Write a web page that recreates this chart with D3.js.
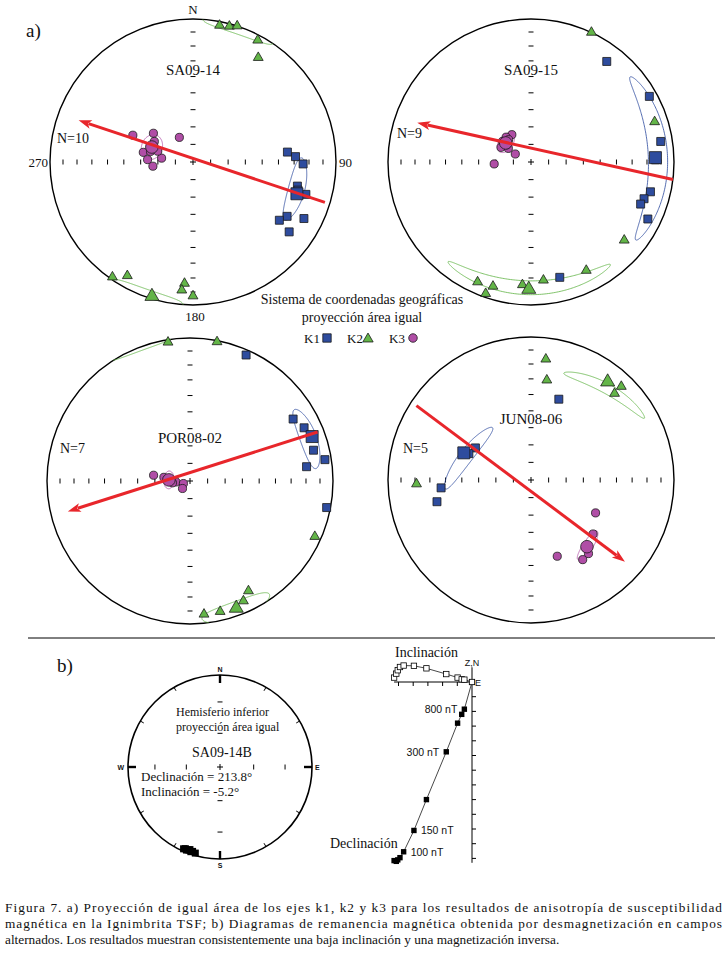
<!DOCTYPE html>
<html>
<head>
<meta charset="utf-8">
<script src="https://cdn.jsdelivr.net/npm/d3@7"></script>
<style>
  body { margin: 0; background: #fff; }
  svg text { font-family: "Liberation Serif", "Times New Roman", serif; fill: #111; }
  svg text.sans { font-family: "Liberation Sans", Arial, sans-serif; }
</style>
</head>
<body>
<svg id="fig" width="727" height="957"></svg>
<script>
// ---------- data : axes as [trend, plunge] in degrees ----------
const siteNames = ["SA09-14", "SA09-15", "POR08-02", "JUN08-06"];
const siteN = [10, 9, 7, 5];

const k1_SA0914 = [[84,34],[87,29],[91,24],[103,26],[106,19],[120,25],[124,28],[117,14],[126,18],[105,25]];
const k2_SA0914 = [[11,3],[15,2],[18,0],[28,4],[32,15],[215,2],[210,9],[184,16],[185,11],[180,7]];
const k3_SA0914 = [[294,52],[306,62],[331,74],[281,61],[277,72],[273,64],[264,67],[298,65],[284,65],[287,69]];
const mean_SA0914 = [[107,25],[197,2],[290,65]];
// confidence ellipses: [trend, plunge, semi-major, semi-minor, axis angle]
const ell_SA0914 = [[105,26,15.5,5.5,0],[199,0,15,6,0],[290,65,7,6,0]];
const flow_SA0914 = [[107,4],[290,16]];

const k1_SA0915 = [[37,13],[61,6],[81,9],[89,14],[104,15],[108,18],[111,19],[116,10],[166,18]];
const k2_SA0915 = [[25,0],[72,10],[130,16],[153,16],[174,18],[184,15],[197,10],[204,9],[199,3]];
const k3_SA0915 = [[325,71],[315,70],[306,70],[296,71],[315,72],[301,75],[297,80],[267,69],[305,73]];
const mean_SA0915 = [[88,14],[181,12],[307,72]];
const ell_SA0915 = [[88,12,38,7,0],[181,13,38,5,0],[307,72,6,4,0]];
const flow_SA0915 = [[97,0],[289,17]];

const k1_POR0802 = [[24,4],[59,17],[65,13],[76,12],[81,5],[83,19],[101,3]];
const k2_POR0802 = [[351,2],[11,1],[114,5],[152,14],[156,9],[167,7],[174,7]];
const k3_POR0802 = [[279,69],[278,75],[266,82],[249,86],[225,84],[264,80],[274,77]];
const mean_POR0802 = [[70,10],[160,6],[273,78]];
const ell_POR0802 = [[70,13,14,6,0],[160,4,15,7,0],[273,78,5,3,0]];
const flow_POR0802 = [[69,5],[256,13]];

const k1_JUN0806 = [[19,40],[300,53],[293,51],[265,37],[257,33]];
const k2_JUN0806 = [[7,16],[9,30],[44,10],[44,17],[268,21]];
const k3_JUN0806 = [[117,48],[131,42],[142,35],[147,34],[161,43]];
const mean_JUN0806 = [[292,48],[38,14],[140,39]];
const ell_JUN0806 = [[290,50,21,4,20],[40,18,22,3.5,-17],[139,39,9,3,-20]];
const flow_JUN0806 = [[303,5],[131,14]];

// part b: remanence directions SA09-14B (upper hemisphere, plotted at their declination)
const decB = [196,198,199,200,201,202,203,204];
const incB = [-3,-4,-3,-5,-4,-3,-4,-3];
// Zijderveld components (one unit = one tick)
const afSteps = [0,25,50,75,100,150,200,300,500,600,800,1000];
const compE  = [-5.3,-5.15,-5.05,-4.9,-4.65,-3.95,-3.1,-1.75,-0.98,-0.7,-0.52,0];
const compN  = [-12.15,-12.2,-12.1,-11.95,-11.55,-10.1,-8.0,-4.75,-2.8,-2.2,-1.85,0];
const compUp = [0.3,0.57,0.8,1.02,1.12,1.1,0.93,0.54,0.3,0.18,0.16,0];
const labelledSteps = [100,150,300,800];

const caption = [
  "Figura 7. a) Proyección de igual área de los ejes k1, k2 y k3 para los resultados de anisotropía de susceptibilidad",
  "magnética en la Ignimbrita TSF; b) Diagramas de remanencia magnética obtenida por desmagnetización en campos",
  "alternados. Los resultados muestran consistentemente una baja inclinación y una magnetización inversa."
];

// ---------- drawing ----------
const svg = d3.select("#fig");
const D = Math.PI / 180;
const colK1 = "#2e4c9e", colK2 = "#63b548", colK3 = "#b04ea6", colArrow = "#e8262b";

function eqArea(tr, pl) {
  if (pl < 0) { tr += 180; pl = -pl; }
  const r = Math.SQRT2 * Math.sin((90 - pl) * D / 2);
  return [r * Math.sin(tr * D), r * Math.cos(tr * D)];
}

function ellipseSegments(e) {
  const [tr, pl, a, b, phi] = e;
  const t = tr * D, p = pl * D, f = phi * D;
  const c = [Math.cos(p) * Math.cos(t), Math.cos(p) * Math.sin(t), Math.sin(p)];
  const eh = [-Math.sin(t), Math.cos(t), 0];
  const ep = [-Math.sin(p) * Math.cos(t), -Math.sin(p) * Math.sin(t), Math.cos(p)];
  const M = eh.map((v, i) => Math.cos(f) * v + Math.sin(f) * ep[i]);
  const m = eh.map((v, i) => -Math.sin(f) * v + Math.cos(f) * ep[i]);
  const ta = Math.tan(a * D), tb = Math.tan(b * D);
  const segs = [];
  let cur = [], last = null;
  for (let k = 0; k <= 360; k++) {
    const th = k / 360 * 2 * Math.PI;
    let v = c.map((cv, i) => cv + ta * Math.cos(th) * M[i] + tb * Math.sin(th) * m[i]);
    const n = Math.hypot(v[0], v[1], v[2]);
    v = v.map(x => x / n);
    const s = v[2] >= 0;
    if (last !== null && s !== last) { segs.push(cur); cur = []; }
    last = s;
    cur.push(eqArea(Math.atan2(v[1], v[0]) / D, Math.asin(v[2]) / D));
  }
  segs.push(cur);
  if (segs.length > 2) { const tail = segs.pop(); segs[0] = tail.concat(segs[0]); }
  return segs;
}

const netLayout = [
  { cx: 193, cy: 162, R: 143, nameY: 75, nX: 57, nY: 143 },
  { cx: 531, cy: 162, R: 143, nameY: 75, nX: 397, nY: 138 },
  { cx: 190, cy: 481, R: 143, nameY: 443, nX: 60, nY: 453 },
  { cx: 531, cy: 480, R: 143, nameY: 424, nX: 403, nY: 453 }
];
const siteData = [
  [k1_SA0914, k2_SA0914, k3_SA0914, mean_SA0914, ell_SA0914, flow_SA0914],
  [k1_SA0915, k2_SA0915, k3_SA0915, mean_SA0915, ell_SA0915, flow_SA0915],
  [k1_POR0802, k2_POR0802, k3_POR0802, mean_POR0802, ell_POR0802, flow_POR0802],
  [k1_JUN0806, k2_JUN0806, k3_JUN0806, mean_JUN0806, ell_JUN0806, flow_JUN0806]
];
const symTypes = [d3.symbolSquare, d3.symbolTriangle, d3.symbolCircle];
const symCols = [colK1, colK2, colK3];
const symSize = [64, 42, 52];
const symBig = [144, 85, 125];

siteNames.forEach((name, si) => {
  const L = netLayout[si];
  const [k1, k2, k3, means, ells, flow] = siteData[si];
  const x = d3.scaleLinear().domain([-1, 1]).range([L.cx - L.R, L.cx + L.R]);
  const y = d3.scaleLinear().domain([-1, 1]).range([L.cy + L.R, L.cy - L.R]);
  const g = svg.append("g");

  g.append("circle").attr("cx", x(0)).attr("cy", y(0)).attr("r", L.R)
    .attr("fill", "none").attr("stroke", "#000").attr("stroke-width", 1.4);

  // ticks every 10 degrees along the axes
  const tickR = d3.range(10, 90, 10).map(inc => Math.SQRT2 * Math.sin((90 - inc) * D / 2));
  tickR.forEach(r => {
    [-1, 1].forEach(sg => {
      g.append("line").attr("x1", x(sg * r)).attr("x2", x(sg * r))
        .attr("y1", y(0) - 2.5).attr("y2", y(0) + 2.5).attr("stroke", "#000").attr("stroke-width", 1);
      g.append("line").attr("y1", y(sg * r)).attr("y2", y(sg * r))
        .attr("x1", x(0) - 2.5).attr("x2", x(0) + 2.5).attr("stroke", "#000").attr("stroke-width", 1);
    });
  });
  g.append("path").attr("d", `M${x(0)-3},${y(0)}h6M${x(0)},${y(0)-3}v6`).attr("stroke", "#000");

  g.append("text").attr("x", x(0)).attr("y", L.nameY).attr("text-anchor", "middle")
    .attr("font-size", 15).text(name);
  g.append("text").attr("x", L.nX).attr("y", L.nY).attr("font-size", 14).text("N=" + siteN[si]);

  // confidence ellipses
  const line = d3.line().x(d => x(d[0])).y(d => y(d[1]));
  ells.forEach((e, k) => {
    ellipseSegments(e).forEach(seg => {
      g.append("path").attr("d", line(seg)).attr("fill", "none")
        .attr("stroke", symCols[k]).attr("stroke-width", 0.9).attr("opacity", 0.9);
    });
  });

  // individual specimens, K2 then K1 then K3
  [[k2, 1], [k1, 0], [k3, 2]].forEach(([pts, k]) => {
    g.selectAll(null).data(pts).enter().append("path")
      .attr("d", d3.symbol().type(symTypes[k]).size(symSize[k]))
      .attr("transform", d => { const p = eqArea(d[0], d[1]); return `translate(${x(p[0])},${y(p[1])})`; })
      .attr("fill", symCols[k]).attr("stroke", "#1a1a1a").attr("stroke-width", 0.8);
  });
  // means
  g.selectAll(null).data(means).enter().append("path")
    .attr("d", (d, k) => d3.symbol().type(symTypes[k]).size(symBig[k])())
    .attr("transform", d => { const p = eqArea(d[0], d[1]); return `translate(${x(p[0])},${y(p[1])})`; })
    .attr("fill", (d, k) => symCols[k]).attr("stroke", "#1a1a1a").attr("stroke-width", 0.8);

  // flow arrow
  const a0 = eqArea(flow[0][0], flow[0][1]), a1 = eqArea(flow[1][0], flow[1][1]);
  const X0 = x(a0[0]), Y0 = y(a0[1]), X1 = x(a1[0]), Y1 = y(a1[1]);
  const len = Math.hypot(X1 - X0, Y1 - Y0), ux = (X1 - X0) / len, uy = (Y1 - Y0) / len;
  const hl = 13, hw = 4.5;
  g.append("line").attr("x1", X0).attr("y1", Y0).attr("x2", X1 - ux * hl * 0.8).attr("y2", Y1 - uy * hl * 0.8)
    .attr("stroke", colArrow).attr("stroke-width", 3);
  g.append("path").attr("d", `M${X1},${Y1}L${X1 - ux*hl - uy*hw},${Y1 - uy*hl + ux*hw}L${X1 - ux*hl*0.75},${Y1 - uy*hl*0.75}L${X1 - ux*hl + uy*hw},${Y1 - uy*hl - ux*hw}Z`)
    .attr("fill", colArrow);

  if (si === 0) {
    g.append("text").attr("x", x(0)).attr("y", y(1) - 5).attr("text-anchor", "middle").attr("font-size", 13).text("N");
    g.append("text").attr("x", x(1) + 3).attr("y", y(0) + 5).attr("font-size", 13).text("90");
    g.append("text").attr("x", x(-1) - 2).attr("y", y(0) + 5).attr("text-anchor", "end").attr("font-size", 13).text("270");
    g.append("text").attr("x", x(0) + 2).attr("y", y(-1) + 16).attr("text-anchor", "middle").attr("font-size", 13).text("180");
  }
});

// panel letters
svg.append("text").attr("x", 26).attr("y", 37).attr("font-size", 19).text("a)");
svg.append("text").attr("x", 57).attr("y", 672).attr("font-size", 19).text("b)");

// legend
svg.append("text").attr("x", 362).attr("y", 304).attr("text-anchor", "middle").attr("font-size", 14)
  .text("Sistema de coordenadas geográficas");
svg.append("text").attr("x", 362).attr("y", 322).attr("text-anchor", "middle").attr("font-size", 14)
  .text("proyección área igual");
const legX = [304, 347, 389], legSymX = [327, 368, 413];
["K1", "K2", "K3"].forEach((lab, k) => {
  svg.append("text").attr("x", legX[k]).attr("y", 343).attr("font-size", 13).text(lab);
  svg.append("path").attr("d", d3.symbol().type(symTypes[k]).size(symSize[k] * 1.1))
    .attr("transform", `translate(${legSymX[k]},${k === 1 ? 339 : 338})`)
    .attr("fill", symCols[k]).attr("stroke", "#1a1a1a").attr("stroke-width", 0.8);
});

// separator
svg.append("line").attr("x1", 28).attr("x2", 715).attr("y1", 638).attr("y2", 638)
  .attr("stroke", "#000").attr("stroke-width", 1);

// ---------- part b: stereonet ----------
{
  const cx = 220, cy = 767, R = 92;
  const x = d3.scaleLinear().domain([-1, 1]).range([cx - R, cx + R]);
  const y = d3.scaleLinear().domain([-1, 1]).range([cy + R, cy - R]);
  const g = svg.append("g");
  g.append("circle").attr("cx", cx).attr("cy", cy).attr("r", R).attr("fill", "none")
    .attr("stroke", "#000").attr("stroke-width", 1.6);
  d3.range(0, 360, 30).forEach(az => {
    const card = az % 90 === 0, l = card ? 8 : 4;
    const sx = Math.sin(az * D), sy = -Math.cos(az * D);
    g.append("line").attr("x1", cx + sx * R).attr("y1", cy + sy * R)
      .attr("x2", cx + sx * (R - l)).attr("y2", cy + sy * (R - l))
      .attr("stroke", "#000").attr("stroke-width", card ? 2.4 : 1);
  });
  [30, 60].forEach(inc => {
    const r = Math.SQRT2 * Math.sin((90 - inc) * D / 2);
    [-1, 1].forEach(sg => {
      g.append("line").attr("x1", x(sg * r)).attr("x2", x(sg * r)).attr("y1", cy - 2.5).attr("y2", cy + 2.5).attr("stroke", "#000");
      g.append("line").attr("y1", y(sg * r)).attr("y2", y(sg * r)).attr("x1", cx - 2.5).attr("x2", cx + 2.5).attr("stroke", "#000");
    });
  });
  g.append("path").attr("d", `M${cx-3},${cy}h6M${cx},${cy-3}v6`).attr("stroke", "#000");
  [["N", cx, cy - R - 3, "middle"], ["S", cx, cy + R + 9, "middle"], ["W", cx - R - 4, cy + 3, "end"], ["E", cx + R + 3, cy + 3, "start"]]
    .forEach(([t, tx, ty, an]) => g.append("text").attr("class", "sans").attr("x", tx).attr("y", ty)
      .attr("text-anchor", an).attr("font-size", 7).attr("font-weight", "bold").text(t));
  g.append("text").attr("x", 176).attr("y", 716).attr("font-size", 12).text("Hemisferio inferior");
  g.append("text").attr("x", 176).attr("y", 731).attr("font-size", 12).text("proyección área igual");
  g.append("text").attr("x", 222).attr("y", 757).attr("text-anchor", "middle").attr("font-size", 14).text("SA09-14B");
  g.append("text").attr("x", 141).attr("y", 781).attr("font-size", 13).text("Declinación = 213.8°");
  g.append("text").attr("x", 141).attr("y", 796).attr("font-size", 13).text("Inclinación = -5.2°");
  g.selectAll(null).data(decB).enter().append("rect")
    .each(function (d, i) {
      const p = eqArea(d, Math.abs(incB[i]));
      d3.select(this).attr("x", x(p[0]) - 3.5).attr("y", y(p[1]) - 3.5).attr("width", 7).attr("height", 7);
    }).attr("fill", "#000");
}

// ---------- part b: Zijderveld diagram ----------
{
  const unit = 14.7, ox = 472, oy = 682;
  const xs = d3.scaleLinear().domain([0, 1]).range([ox, ox + unit]);
  const ys = d3.scaleLinear().domain([0, 1]).range([oy, oy - unit]);
  const g = svg.append("g");
  g.append("line").attr("x1", xs(d3.min(compE))).attr("x2", xs(0)).attr("y1", oy).attr("y2", oy).attr("stroke", "#000");
  g.append("line").attr("x1", ox).attr("x2", ox).attr("y1", ys(1)).attr("y2", ys(d3.min(compN) - 0.1)).attr("stroke", "#000");
  d3.range(-1, -6, -1).forEach(v => g.append("line").attr("x1", xs(v)).attr("x2", xs(v)).attr("y1", oy).attr("y2", oy + 4).attr("stroke", "#000"));
  d3.range(-1, -13, -1).forEach(v => g.append("line").attr("x1", ox).attr("x2", ox + 4).attr("y1", ys(v)).attr("y2", ys(v)).attr("stroke", "#000"));
  g.append("text").attr("class", "sans").attr("x", ox).attr("y", oy - 16).attr("text-anchor", "middle").attr("font-size", 9).text("Z,N");
  g.append("text").attr("class", "sans").attr("x", ox + 3).attr("y", oy + 4).attr("font-size", 9).text("E");
  g.append("text").attr("x", 395).attr("y", 657).attr("font-size", 14).text("Inclinación");
  g.append("text").attr("x", 330).attr("y", 848).attr("font-size", 14).text("Declinación");

  const horiz = d3.line().x((d, i) => xs(compE[i])).y((d, i) => ys(compN[i]));
  const vert = d3.line().x((d, i) => xs(compE[i])).y((d, i) => ys(compUp[i]));
  g.append("path").attr("d", horiz(afSteps)).attr("fill", "none").attr("stroke", "#333").attr("stroke-width", 0.9);
  g.append("path").attr("d", vert(afSteps)).attr("fill", "none").attr("stroke", "#333").attr("stroke-width", 0.9);
  afSteps.forEach((s, i) => {
    g.append("rect").attr("x", xs(compE[i]) - 2.7).attr("y", ys(compN[i]) - 2.7).attr("width", 5.4).attr("height", 5.4).attr("fill", "#000");
    g.append("rect").attr("x", xs(compE[i]) - 2.7).attr("y", ys(compUp[i]) - 2.7).attr("width", 5.4).attr("height", 5.4)
      .attr("fill", "#fff").attr("stroke", "#000").attr("stroke-width", 0.8);
  });
  labelledSteps.forEach(s => {
    const i = afSteps.indexOf(s);
    const right = s >= 300;
    g.append("text").attr("class", "sans").attr("font-size", 10.5)
      .attr("x", xs(compE[i]) + (right ? -7 : 7)).attr("y", ys(compN[i]) + 4)
      .attr("text-anchor", right ? "end" : "start").text(s + " nT");
  });
}

// caption
caption.forEach((t, i) => {
  const tx = svg.append("text").attr("x", 5).attr("y", 912 + i * 16).attr("font-size", 13.3).text(t);
  if (i < 2) tx.attr("textLength", 717).attr("lengthAdjust", "spacing");
});
</script>
</body>
</html>
